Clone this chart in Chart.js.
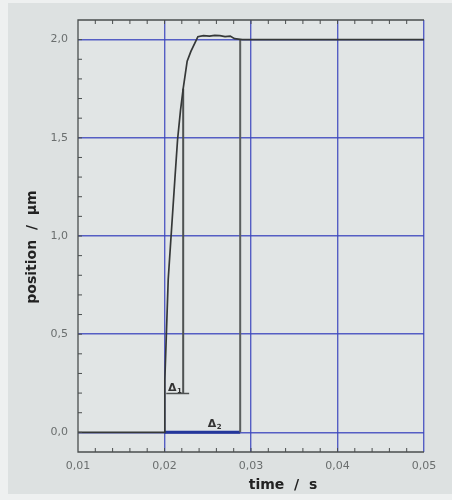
<!DOCTYPE html>
<html>
<head>
<meta charset="utf-8">
<script src="https://cdn.jsdelivr.net/npm/chart.js@4.4.0/dist/chart.umd.min.js"></script>
<style>
html, body { margin: 0; padding: 0; background: #dee2e2; }
</style>
</head>
<body>
<canvas id="stepChart" width="452" height="500"></canvas>
<script>
// step response
const timeValues = [0.010, 0.0200, 0.02003, 0.02005, 0.02043, 0.0212, 0.02151, 0.02185, 0.02216, 0.02262, 0.02305, 0.02359, 0.02386, 0.0245, 0.0252, 0.0258, 0.0264, 0.0270, 0.0276, 0.0281, 0.0290, 0.0330, 0.0400, 0.0500];
const positionValues = [0, 0, 0.15, 0.27, 0.78, 1.29, 1.49, 1.64, 1.75, 1.89, 1.94, 1.99, 2.015, 2.02, 2.018, 2.022, 2.02, 2.015, 2.018, 2.005, 2.0, 2.0, 2.0, 2.0];

// delta t markers
const mark1Times = [0.02216, 0.02216];
const mark1Values = [0.198, 1.75];
const mark1BaseTimes = [0.0202, 0.02285];
const mark1BaseValues = [0.198, 0.198];
const mark2Times = [0.02875, 0.02875];
const mark2Values = [0, 2.0];
const span2Times = [0.0200, 0.02875];
const span2Values = [0, 0];

const xTickLabels = ["0,01", "0,02", "0,03", "0,04", "0,05"];
const yTickLabels = ["0,0", "0,5", "1,0", "1,5", "2,0"];

const gridBlue = "rgba(60,70,190,0.85)";
const tickFont = { family: "DejaVu Sans", size: 11 };

function pts(xs, ys) {
  return xs.map((x, i) => ({ x: x, y: ys[i] }));
}
function isMajorX(v) { return Math.abs(v * 100 - Math.round(v * 100)) < 1e-6; }
function isMajorY(v) { return Math.abs(v * 2 - Math.round(v * 2)) < 1e-6; }

const framePlugin = {
  id: "frame",
  beforeDraw(chart) {
    const c = chart.ctx;
    c.save();
    c.fillStyle = "#dde1e1";
    c.fillRect(0, 0, chart.width, chart.height);
    c.fillStyle = "#eef0f0";
    c.fillRect(0, 0, 8, chart.height);
    c.fillRect(0, 0, chart.width, 3);
    c.fillRect(0, 494, chart.width, 6);
    c.fillStyle = "#e1e5e5";
    const a = chart.chartArea;
    c.fillRect(a.left, a.top, a.right - a.left, a.bottom - a.top);
    c.restore();
  },
  afterDraw(chart) {
    const c = chart.ctx;
    const a = chart.chartArea;
    const xs = chart.scales.x;
    const ys = chart.scales.y;
    c.save();
    // box
    c.strokeStyle = "#4a4e4e";
    c.lineWidth = 1.3;
    c.beginPath();
    c.moveTo(a.right, a.top);
    c.lineTo(a.left, a.top);
    c.lineTo(a.left, a.bottom);
    c.lineTo(a.right, a.bottom);
    c.stroke();
    // inner ticks
    c.lineWidth = 1;
    c.beginPath();
    xs.ticks.forEach(t => {
      const px = xs.getPixelForValue(t.value);
      if (px <= a.left + 1 || px >= a.right - 1) return;
      c.moveTo(px, a.bottom); c.lineTo(px, a.bottom - 4);
      c.moveTo(px, a.top); c.lineTo(px, a.top + 4);
    });
    ys.ticks.forEach(t => {
      const py = ys.getPixelForValue(t.value);
      if (py <= a.top + 1 || py >= a.bottom - 1) return;
      c.moveTo(a.left, py); c.lineTo(a.left + 4, py);
    });
    c.stroke();
    // delta labels
    c.fillStyle = "#333";
    c.textBaseline = "alphabetic";
    c.textAlign = "left";
    const d1x = xs.getPixelForValue(0.0204), d1y = ys.getPixelForValue(0.21);
    c.font = "bold 11px 'DejaVu Sans'";
    c.fillText("Δ", d1x, d1y);
    c.font = "bold 7px 'DejaVu Sans'";
    c.fillText("1", d1x + 9, d1y + 2);
    const d2x = xs.getPixelForValue(0.0250), d2y = ys.getPixelForValue(0.027);
    c.font = "bold 11px 'DejaVu Sans'";
    c.fillText("Δ", d2x, d2y);
    c.font = "bold 7px 'DejaVu Sans'";
    c.fillText("2", d2x + 9, d2y + 2);
    // axis titles
    c.fillStyle = "#222";
    c.font = "bold 14px 'DejaVu Sans'";
    c.textAlign = "center";
    c.textBaseline = "middle";
    c.fillText("time  /  s", 283, 485);
    c.translate(32, 247);
    c.rotate(-Math.PI / 2);
    c.fillText("position  /  µm", 0, 0);
    c.restore();
  }
};

new Chart("stepChart", {
  type: "scatter",
  data: {
    datasets: [
      { data: pts(timeValues, positionValues), showLine: true, borderColor: "#353838", borderWidth: 1.7, pointRadius: 0 },
      { data: pts(mark1Times, mark1Values), showLine: true, borderColor: "#4e5252", borderWidth: 2, pointRadius: 0 },
      { data: pts(mark1BaseTimes, mark1BaseValues), showLine: true, borderColor: "#4e5252", borderWidth: 1.5, pointRadius: 0 },
      { data: pts(mark2Times, mark2Values), showLine: true, borderColor: "#5a5e5e", borderWidth: 2, pointRadius: 0 },
      { data: pts(span2Times, span2Values), showLine: true, borderColor: "#23369a", borderWidth: 3, pointRadius: 0 }
    ]
  },
  options: {
    responsive: false,
    animation: false,
    layout: { padding: { left: 0, top: 20, right: 28, bottom: 0 } },
    plugins: {
      legend: { display: false },
      tooltip: { enabled: false }
    },
    scales: {
      x: {
        type: "linear",
        min: 0.01,
        max: 0.05,
        afterFit: (s) => { s.height = 48; },
        border: { display: false },
        grid: {
          drawTicks: false,
          lineWidth: 1.4,
          color: (ctx) => (ctx.tick && isMajorX(ctx.tick.value) && ctx.tick.value > 0.0101) ? gridBlue : "rgba(0,0,0,0)"
        },
        ticks: {
          stepSize: 0.002,
          autoSkip: false,
          maxRotation: 0,
          padding: 8,
          color: "#6a6e6e",
          font: tickFont,
          callback: (v) => isMajorX(v) ? xTickLabels[Math.round(v * 100) - 1] : ""
        }
      },
      y: {
        type: "linear",
        min: -0.1,
        max: 2.1,
        afterFit: (s) => { s.width = 78; },
        border: { display: false },
        grid: {
          drawTicks: false,
          lineWidth: 1.4,
          color: (ctx) => (ctx.tick && isMajorY(ctx.tick.value) && ctx.tick.value > -0.01 && ctx.tick.value < 2.01) ? gridBlue : "rgba(0,0,0,0)"
        },
        ticks: {
          stepSize: 0.1,
          autoSkip: false,
          padding: 10,
          color: "#6a6e6e",
          font: tickFont,
          callback: (v) => (isMajorY(v) && v > -0.01 && v < 2.01) ? yTickLabels[Math.round(v * 2)] : ""
        }
      }
    }
  },
  plugins: [framePlugin]
});
</script>
</body>
</html>
